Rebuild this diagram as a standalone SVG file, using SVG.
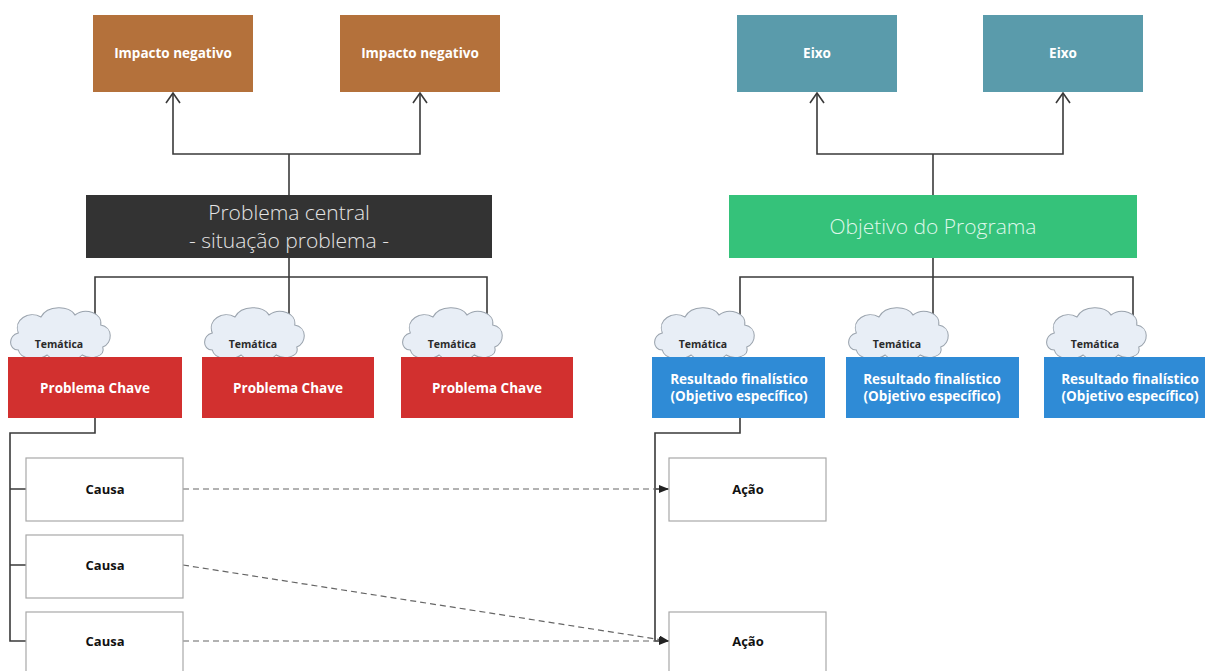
<svg xmlns="http://www.w3.org/2000/svg" width="1205" height="671" viewBox="0 0 1205 671">
<style>
.lbl{font-family:"Open Sans","Noto Sans","Liberation Sans",sans-serif;font-weight:700;text-anchor:middle;dominant-baseline:central}
.big{font-family:"Open Sans","Noto Sans","Liberation Sans",sans-serif;font-weight:300;text-anchor:middle;dominant-baseline:central;font-size:21px}
.w{fill:#ffffff;font-size:13.5px}
.tm{fill:#2a2a2a;font-size:10.5px}
.cz{fill:#111;font-size:13px}
.ln{fill:none;stroke:#3a3a3a;stroke-width:1.6}
.ds{fill:none;stroke:#666;stroke-width:1.2;stroke-dasharray:6 4}
.cloud{fill:#e8eef6;stroke:#9aa3ad;stroke-width:1}
.wb{fill:#fff;stroke:#a8a8a8;stroke-width:1.2}
</style>
<defs>
<marker id="open" viewBox="0 0 12 16" refX="11" refY="8" markerWidth="12" markerHeight="16" markerUnits="userSpaceOnUse" orient="auto">
<path d="M1,1 L11,8 L1,15" fill="none" stroke="#3a3a3a" stroke-width="1.6"/>
</marker>
<marker id="fill" viewBox="0 0 10 8" refX="10" refY="4" markerWidth="10" markerHeight="8" markerUnits="userSpaceOnUse" orient="auto">
<path d="M0,0 L10,4 L0,8 Z" fill="#222"/>
</marker>
<path id="cl" d="M10,45 C0,45 0,30 10,28 C5,15 20,5 32,12 C38,0 60,0 65,10 C75,2 92,8 90,20 C102,22 102,38 92,42 C95,52 80,55 72,50 C65,58 45,58 38,50 C30,56 12,55 10,45 Z"/>
</defs>
<rect width="1205" height="671" fill="#fff"/>

<g id="connectors">
<path class="ln" d="M289,154 H173 V93" marker-end="url(#open)"/>
<path class="ln" d="M289,154 H420 V93" marker-end="url(#open)"/>
<path class="ln" d="M289,154 V195"/>
<path class="ln" d="M933,154 H817 V93" marker-end="url(#open)"/>
<path class="ln" d="M933,154 H1063 V93" marker-end="url(#open)"/>
<path class="ln" d="M933,154 V195"/>
<path class="ln" d="M289,258 V277 M95,357 V277 H487 V357 M289,277 V357"/>
<path class="ln" d="M933,258 V277 M740,357 V277 H1133 V357 M933,277 V357"/>
<path class="ln" d="M95,418 V433 H10 V641 H26 M10,489 H26 M10,565 H26"/>
<path class="ln" d="M740,418 V433 H655 V641 H668 M655,489 H668"/>
<path class="ds" d="M183,489 H669" marker-end="url(#fill)"/>
<path class="ds" d="M183,565 L669,641" marker-end="url(#fill)"/>
<path class="ds" d="M183,641 H669" marker-end="url(#fill)"/>
</g>

<g id="impacto1"><rect x="93" y="15" width="160" height="77" fill="#b4713b"/><text class="lbl w" x="173" y="53">Impacto negativo</text></g>
<g id="impacto2"><rect x="340" y="15" width="160" height="77" fill="#b4713b"/><text class="lbl w" x="420" y="53">Impacto negativo</text></g>
<g id="eixo1"><rect x="737" y="15" width="160" height="77" fill="#5a9bab"/><text class="lbl w" x="817" y="53">Eixo</text></g>
<g id="eixo2"><rect x="983" y="15" width="160" height="77" fill="#5a9bab"/><text class="lbl w" x="1063" y="53">Eixo</text></g>

<g id="problema-central"><rect x="86" y="195" width="406" height="63" fill="#333333"/><text class="big" x="289" y="212" fill="#e4e4e4">Problema central</text><text class="big" x="289" y="240" fill="#e4e4e4">- situação problema -</text></g>
<g id="objetivo"><rect x="729" y="195" width="408" height="63" fill="#35c27a"/><text class="big" x="933" y="226" fill="#dff7ea" font-size="23">Objetivo do Programa</text></g>

<g id="tematica1"><use href="#cl" class="cloud" transform="translate(8,305) scale(1.03,1)"/><text class="lbl tm" x="59" y="344">Temática</text></g>
<g id="tematica2"><use href="#cl" class="cloud" transform="translate(202,305) scale(1.03,1)"/><text class="lbl tm" x="253" y="344">Temática</text></g>
<g id="tematica3"><use href="#cl" class="cloud" transform="translate(400,305) scale(1.03,1)"/><text class="lbl tm" x="452" y="344">Temática</text></g>
<g id="tematica4"><use href="#cl" class="cloud" transform="translate(652,305) scale(1.03,1)"/><text class="lbl tm" x="703" y="344">Temática</text></g>
<g id="tematica5"><use href="#cl" class="cloud" transform="translate(846,305) scale(1.03,1)"/><text class="lbl tm" x="897" y="344">Temática</text></g>
<g id="tematica6"><use href="#cl" class="cloud" transform="translate(1044,305) scale(1.03,1)"/><text class="lbl tm" x="1095" y="344">Temática</text></g>

<g id="chave1"><rect x="8" y="357" width="174" height="61" fill="#d2302f"/><text class="lbl w" x="95" y="388" font-size="14">Problema Chave</text></g>
<g id="chave2"><rect x="202" y="357" width="172" height="61" fill="#d2302f"/><text class="lbl w" x="288" y="388" font-size="14">Problema Chave</text></g>
<g id="chave3"><rect x="401" y="357" width="172" height="61" fill="#d2302f"/><text class="lbl w" x="487" y="388" font-size="14">Problema Chave</text></g>

<g id="resultado1"><rect x="652" y="357" width="173" height="61" fill="#2f8bd6"/><text class="lbl w" x="739" y="379" font-size="13">Resultado finalístico</text><text class="lbl w" x="739" y="396" font-size="13">(Objetivo específico)</text></g>
<g id="resultado2"><rect x="846" y="357" width="173" height="61" fill="#2f8bd6"/><text class="lbl w" x="932" y="379" font-size="13">Resultado finalístico</text><text class="lbl w" x="932" y="396" font-size="13">(Objetivo específico)</text></g>
<g id="resultado3"><rect x="1044" y="357" width="173" height="61" fill="#2f8bd6"/><text class="lbl w" x="1130" y="379" font-size="13">Resultado finalístico</text><text class="lbl w" x="1130" y="396" font-size="13">(Objetivo específico)</text></g>

<g id="causa1"><rect class="wb" x="26" y="458" width="157" height="63"/><text class="lbl cz" x="105" y="489">Causa</text></g>
<g id="causa2"><rect class="wb" x="26" y="535" width="157" height="63"/><text class="lbl cz" x="105" y="565">Causa</text></g>
<g id="causa3"><rect class="wb" x="26" y="612" width="157" height="70"/><text class="lbl cz" x="105" y="641">Causa</text></g>
<g id="acao1"><rect class="wb" x="669" y="458" width="157" height="63"/><text class="lbl cz" x="748" y="489">Ação</text></g>
<g id="acao2"><rect class="wb" x="669" y="612" width="157" height="70"/><text class="lbl cz" x="748" y="641">Ação</text></g>
</svg>
